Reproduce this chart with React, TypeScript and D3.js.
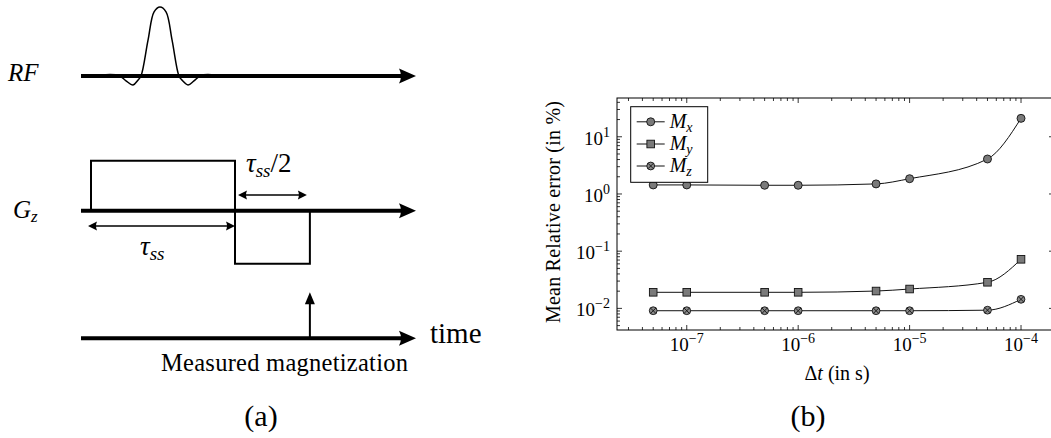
import React from 'react';
import * as d3 from 'd3';

// ---------- Data (b): mean relative error vs time step ----------
const dtValues = [5e-8, 1e-7, 5e-7, 1e-6, 5e-6, 1e-5, 5e-5, 1e-4];
const mxError = [1.44, 1.44, 1.42, 1.42, 1.5, 1.85, 4.09, 21.0];
const myError = [0.0191, 0.0191, 0.0191, 0.0191, 0.0201, 0.0218, 0.0286, 0.0721];
const mzError = [0.0091, 0.0091, 0.0091, 0.0091, 0.0091, 0.0091, 0.0093, 0.0144];
const seriesSubs = ['x', 'y', 'z'];
const seriesMarkers = ['circle', 'square', 'otimes'];

// ---------- Data (a): pulse sequence (time in units of tau_ss, amplitude relative) ----------
const rfPulseT = [0.0625, 0.132, 0.2, 0.243, 0.292, 0.326, 0.347, 0.396, 0.438, 0.479, 0.521, 0.563, 0.611, 0.632, 0.674, 0.715, 0.757, 0.8125, 0.868];
const rfPulseA = [0, 0.02, 0, -0.07, -0.13, -0.06, 0, 0.52, 0.93, 1.0, 0.93, 0.52, 0, -0.06, -0.13, -0.07, 0, 0.02, 0];
const gzT = [0, 0, 1, 1, 1.52, 1.52];
const gzA = [0, 1, 1, -1.06, -1.06, 0];
const measureT = 1.52;

const SERIF = '"Liberation Serif", "Times New Roman", serif';

function Marker({ kind, cx, cy }: { kind: string; cx: number; cy: number }) {
  const fill = '#7a7a7a';
  if (kind === 'circle') return <circle cx={cx} cy={cy} r={4} fill={fill} stroke="#111" strokeWidth={0.9} />;
  if (kind === 'square') return <rect x={cx - 3.8} y={cy - 3.8} width={7.6} height={7.6} fill={fill} stroke="#111" strokeWidth={0.9} />;
  const r = 3.9;
  const d = r * 0.7071;
  return (
    <g>
      <circle cx={cx} cy={cy} r={r} fill="#8a8a8a" stroke="#111" strokeWidth={0.9} />
      <path d={`M${cx - d},${cy - d}L${cx + d},${cy + d}M${cx - d},${cy + d}L${cx + d},${cy - d}`} stroke="#111" strokeWidth={0.9} />
    </g>
  );
}

function ThickArrow({ x0, x1, yy }: { x0: number; x1: number; yy: number }) {
  return (
    <g>
      <line x1={x0} y1={yy} x2={x1 - 12} y2={yy} stroke="#000" strokeWidth={4} />
      <path d={`M${x1},${yy}L${x1 - 17},${yy - 7.5}Q${x1 - 13},${yy} ${x1 - 17},${yy + 7.5}Z`} fill="#000" />
    </g>
  );
}

function DoubleArrow({ x0, x1, yy }: { x0: number; x1: number; yy: number }) {
  const L = 9, w = 4.5;
  return (
    <g>
      <line x1={x0 + 4} y1={yy} x2={x1 - 4} y2={yy} stroke="#000" strokeWidth={1.6} />
      <path d={`M${x0},${yy}L${x0 + L},${yy - w}Q${x0 + L - 2},${yy} ${x0 + L},${yy + w}Z`} fill="#000" />
      <path d={`M${x1},${yy}L${x1 - L},${yy - w}Q${x1 - L + 2},${yy} ${x1 - L},${yy + w}Z`} fill="#000" />
    </g>
  );
}

export default function App() {
  const W = 1051, H = 438;

  // ---------- panel (a) ----------
  const t = d3.scaleLinear().domain([0, 1]).range([91, 235]);
  const rfY = d3.scaleLinear().domain([0, 1]).range([76, 7]);
  const gzY = d3.scaleLinear().domain([0, 1]).range([210.7, 160.7]);
  const timeAxisY = 338.3;
  const axisX0 = 81, axisX1 = 416;

  const rfLine = d3.line<number>()
    .x((_, i) => t(rfPulseT[i]))
    .y((a) => rfY(a))
    .curve(d3.curveCatmullRom.alpha(0.5));
  const gzLine = d3.line<number>()
    .x((_, i) => t(gzT[i]))
    .y((a) => gzY(a));

  // ---------- panel (b) ----------
  const plot = { left: 617, right: 1054, top: 98, bottom: 330 };
  const x = d3.scaleLog().domain([10 ** -7.626, 10 ** -3.704]).range([plot.left, plot.right]);
  const y = d3.scaleLog().domain([10 ** -2.378, 10 ** 1.678]).range([plot.bottom, plot.top]);
  const isMajor = (v: number) => Math.abs(Math.log10(v) - Math.round(Math.log10(v))) < 1e-6;
  const xTicks = x.ticks().filter((v) => x(v) >= plot.left && x(v) <= plot.right);
  const yTicks = y.ticks().filter((v) => y(v) >= plot.top && y(v) <= plot.bottom);
  const majLen = 5, minLen = 3;

  const series = [mxError, myError, mzError].map((vals, i) => ({
    vals,
    sub: seriesSubs[i],
    marker: seriesMarkers[i],
  }));
  const line = d3.line<number>()
    .x((_, i) => x(dtValues[i]))
    .y((v) => y(v))
    .curve(d3.curveMonotoneX);

  const expLabel = (v: number) => {
    const e = Math.round(Math.log10(v));
    return e < 0 ? `\u2212${-e}` : `${e}`;
  };

  const legend = { x: 630.7, y: 106.7, w: 77, h: 75.6, rows: [121.8, 144, 166] };

  return (
    <svg width={W} height={H} style={{ position: 'absolute', left: 0, top: 0, background: '#fff' }} fontFamily={SERIF}>
      <rect width={W} height={H} fill="#fff" />
      {/* ===== Panel (a) ===== */}
      <text x={8} y={81} fontSize={25} fontStyle="italic">RF</text>
      <path d={rfLine(rfPulseA) || ''} fill="none" stroke="#000" strokeWidth={1.5} />
      <ThickArrow x0={axisX0} x1={axisX1} yy={rfY(0)} />

      <text x={13} y={218} fontSize={25} fontStyle="italic">G<tspan fontSize={17} dy={4}>z</tspan></text>
      <path d={gzLine(gzA) || ''} fill="none" stroke="#000" strokeWidth={2} />
      <ThickArrow x0={axisX0} x1={axisX1} yy={gzY(0)} />
      <DoubleArrow x0={t(1) + 3} x1={t(measureT) - 3} yy={195} />
      <text x={246} y={172} fontSize={27}>
        <tspan fontStyle="italic">τ</tspan>
        <tspan fontStyle="italic" fontSize={19} dy={5}>ss</tspan>
        <tspan dy={-5}>/2</tspan>
      </text>
      <DoubleArrow x0={t(0) - 3} x1={t(1)} yy={226} />
      <text x={140} y={255} fontSize={27}>
        <tspan fontStyle="italic">τ</tspan>
        <tspan fontStyle="italic" fontSize={19} dy={5}>ss</tspan>
      </text>

      <ThickArrow x0={axisX0} x1={axisX1} yy={timeAxisY} />
      <line x1={t(measureT)} y1={timeAxisY} x2={t(measureT)} y2={timeAxisY - 40} stroke="#000" strokeWidth={2} />
      <path d={`M${t(measureT)},${timeAxisY - 46}L${t(measureT) - 5},${timeAxisY - 34}L${t(measureT) + 5},${timeAxisY - 34}Z`} fill="#000" />
      <text x={430} y={343} fontSize={29}>time</text>
      <text x={161} y={371} fontSize={24.5} textLength={247} lengthAdjust="spacing">Measured magnetization</text>
      <text x={261} y={426} fontSize={30} textAnchor="middle">(a)</text>

      {/* ===== Panel (b) ===== */}
      <rect x={plot.left} y={plot.top} width={plot.right - plot.left} height={plot.bottom - plot.top} fill="none" stroke="#000" strokeWidth={1} />
      {xTicks.map((v, i) => {
        const L = isMajor(v) ? majLen : minLen;
        const px = x(v);
        return (
          <g key={`xt${i}`} stroke="#000" strokeWidth={0.8}>
            <line x1={px} x2={px} y1={plot.bottom} y2={plot.bottom - L} />
            <line x1={px} x2={px} y1={plot.top} y2={plot.top + L} />
          </g>
        );
      })}
      {yTicks.map((v, i) => {
        const L = isMajor(v) ? majLen : minLen;
        const py = y(v);
        return (
          <g key={`yt${i}`} stroke="#000" strokeWidth={0.8}>
            <line x1={plot.left} x2={plot.left + L} y1={py} y2={py} />
            <line x1={plot.right} x2={plot.right - L} y1={py} y2={py} />
          </g>
        );
      })}
      {xTicks.filter(isMajor).map((v, i) => (
        <text key={`xl${i}`} x={x(v)} y={351} fontSize={19} textAnchor="middle">
          10<tspan fontSize={14} dy={-8}>{expLabel(v)}</tspan>
        </text>
      ))}
      {yTicks.filter(isMajor).map((v, i) => (
        <text key={`yl${i}`} x={610} y={y(v) + 8} fontSize={19} textAnchor="end">
          10<tspan fontSize={14} dy={-8}>{expLabel(v)}</tspan>
        </text>
      ))}
      <text x={837} y={380} fontSize={20} textAnchor="middle">
        Δ<tspan fontStyle="italic">t</tspan> (in s)
      </text>
      <text transform={`translate(560,212) rotate(-90)`} fontSize={20} textAnchor="middle" textLength={222} lengthAdjust="spacing">
        Mean Relative error (in %)
      </text>

      {series.map((s, si) => (
        <g key={`s${si}`}>
          <path d={line(s.vals) || ''} fill="none" stroke="#111" strokeWidth={1} />
          {s.vals.map((v, i) => (
            <Marker key={i} kind={s.marker} cx={x(dtValues[i])} cy={y(v)} />
          ))}
        </g>
      ))}

      {/* legend */}
      <rect x={legend.x} y={legend.y} width={legend.w} height={legend.h} fill="#fff" stroke="#000" strokeWidth={1} />
      {series.map((s, si) => (
        <g key={`lg${si}`}>
          <line x1={legend.x + 6} x2={legend.x + 34} y1={legend.rows[si]} y2={legend.rows[si]} stroke="#111" strokeWidth={1} />
          <Marker kind={s.marker} cx={legend.x + 20} cy={legend.rows[si]} />
          <text x={legend.x + 39} y={legend.rows[si] + 6} fontSize={20} fontStyle="italic">
            M<tspan fontSize={14} dy={4}>{s.sub}</tspan>
          </text>
        </g>
      ))}

      <text x={808} y={426} fontSize={30} textAnchor="middle">(b)</text>
    </svg>
  );
}
